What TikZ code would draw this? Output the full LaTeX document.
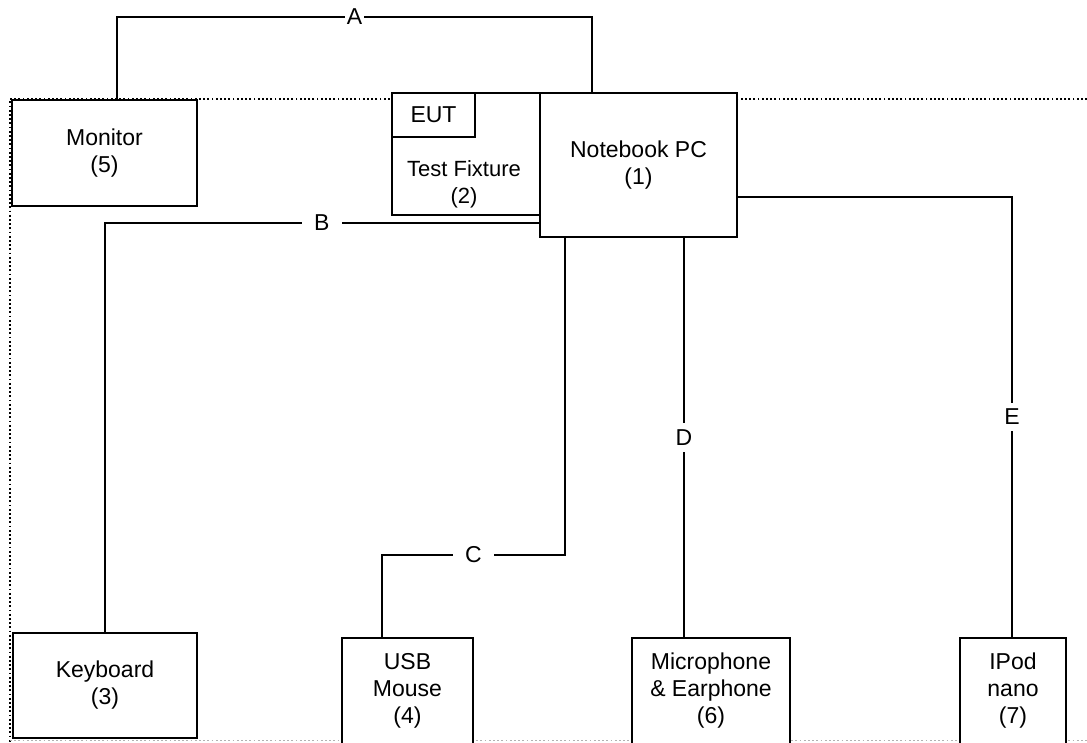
\documentclass[tikz,border=0pt]{standalone}
\usepackage{fontspec}
\setmainfont{Liberation Sans}
\begin{document}
\begin{tikzpicture}[x=1pt,y=-1pt,
  box/.style={draw,line width=2.6pt,fill=white,inner sep=0pt,align=center,
    font=\fontsize{23}{27}\selectfont},
  wire/.style={line width=2.3pt},
  lbl/.style={fill=white,inner xsep=12pt,inner ysep=6pt,font=\fontsize{23}{25}\selectfont},
  frame/.style={line width=1.8pt,dash pattern=on 1.8pt off 2.4pt}]
\useasboundingbox (0,0) rectangle (1087,742);
% dotted frame
\draw[frame] (1087,99) -- (10,99) -- (10,742);
\draw[frame,gray!60,line width=1pt] (10,740) -- (1087,740);
% boxes
\node[box,minimum width=185pt,minimum height=106pt] (monitor) at (104.5,153) {Monitor\\(5)};
\node[box,minimum width=148pt,minimum height=122pt] (fixture) at (466,154) {};
\node[font=\fontsize{22}{27}\selectfont,align=center] (fixturetxt) at (464,184) {Test Fixture\\(2)};
\node[box,minimum width=83pt,minimum height=44pt] (eut) at (433.5,115) {EUT};
\node[box,minimum width=197pt,minimum height=144pt] (pc) at (638.5,165) {Notebook PC\\(1)};
\node[box,minimum width=184pt,minimum height=105pt] (keyboard) at (105,685.5) {Keyboard\\(3)};
\node[box,minimum width=131pt,minimum height=106pt] (mouse) at (407.5,691) {USB\\Mouse\\(4)};
\node[box,minimum width=158pt,minimum height=106pt] (mic) at (711,691) {Microphone\\\& Earphone\\(6)};
\node[box,minimum width=106pt,minimum height=106pt] (ipod) at (1013,691) {IPod\\nano\\(7)};
% connector coordinates
\coordinate (a1) at (117,17);
\coordinate (a2) at (592,17);
\coordinate (b1) at (105,223);
\coordinate (c1) at (565,555);
\coordinate (c2) at (382,555);
\coordinate (d1) at (684,400);
\coordinate (e1) at (1012,197);
% connectors
\draw[wire] (monitor.north -| a1) -- (a1) -- node[lbl,inner xsep=2pt,inner ysep=1pt] {A} (a2) -- (pc.north -| a2);
\draw[wire] (pc.west |- b1) -- node[lbl] {B} (b1) -- (keyboard.north -| b1);
\draw[wire] (pc.south -| c1) -- (c1) -- node[lbl] {C} (c2) -- (mouse.north -| c2);
\draw[wire] (pc.south -| d1) -- node[lbl,inner xsep=2pt,inner ysep=7pt] {D} (mic.north -| d1);
\draw[wire] (pc.east |- e1) -- (e1) -- node[lbl,inner xsep=2pt,inner ysep=6pt] {E} (ipod.north -| e1);
\end{tikzpicture}
\end{document}
